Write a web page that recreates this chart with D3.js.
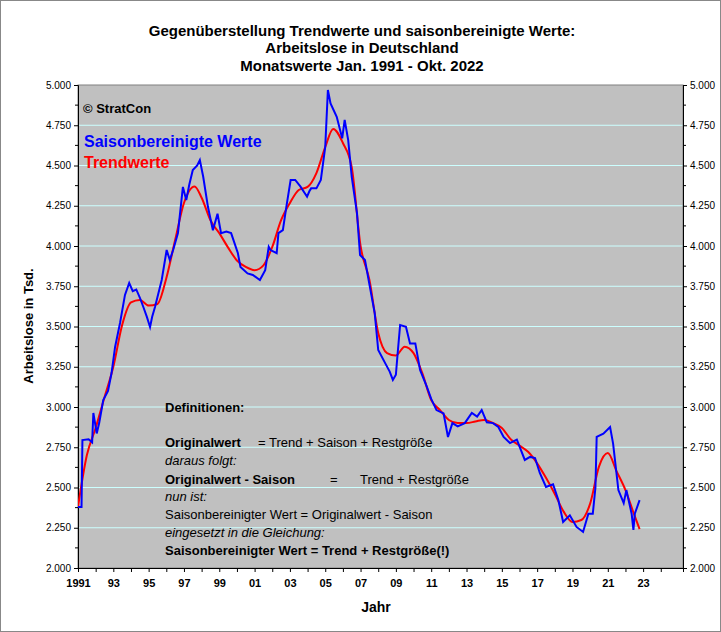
<!DOCTYPE html>
<html><head><meta charset="utf-8">
<script src="https://cdn.jsdelivr.net/npm/d3@7"></script>
<style>body{margin:0;background:#fff}svg{font-family:"Liberation Sans",Arial,sans-serif}</style>
</head><body><svg id="c" width="721" height="632"></svg>
<script>
const blueT=[1991.0,1991.2,1991.25,1991.6,1991.8,1991.87,1992.06,1992.2,1992.43,1992.7,1992.9,1993.1,1993.38,1993.66,1993.9,1994.1,1994.3,1994.5,1994.7,1994.9,1995.08,1995.2,1995.36,1995.74,1996.02,1996.2,1996.4,1996.66,1996.94,1997.13,1997.3,1997.5,1997.75,1997.9,1998.09,1998.36,1998.64,1998.9,1999.1,1999.4,1999.67,2000.05,2000.2,2000.6,2000.9,2001.3,2001.6,2001.8,2001.9,2002.25,2002.35,2002.6,2002.8,2003.04,2003.3,2003.6,2003.97,2004.1,2004.2,2004.5,2004.75,2005.0,2005.15,2005.3,2005.65,2005.96,2006.1,2006.3,2006.5,2006.8,2006.97,2007.25,2007.53,2007.8,2008.0,2008.4,2008.65,2008.83,2009.0,2009.1,2009.24,2009.57,2009.8,2010.1,2010.37,2010.75,2011.0,2011.3,2011.7,2011.95,2012.2,2012.5,2012.9,2013.3,2013.6,2013.86,2014.15,2014.5,2014.8,2015.1,2015.46,2015.85,2016.3,2016.6,2016.88,2017.15,2017.5,2017.9,2018.2,2018.47,2018.85,2019.23,2019.6,2019.9,2020.15,2020.3,2020.37,2020.75,2021.13,2021.3,2021.6,2021.9,2022.05,2022.35,2022.45,2022.53,2022.8];
const blueV=[2379,2379,2795,2800,2780,2963,2836,2900,3043,3100,3211,3373,3522,3696,3770,3720,3730,3680,3621,3560,3497,3560,3621,3789,3975,3913,3980,4081,4367,4285,4380,4472,4500,4534,4430,4242,4098,4200,4080,4090,4080,3957,3870,3830,3820,3789,3850,3995,3975,3955,4080,4099,4244,4410,4410,4369,4306,4340,4358,4358,4410,4615,4969,4886,4803,4669,4783,4658,4430,4203,3944,3913,3745,3584,3354,3271,3220,3168,3200,3333,3509,3498,3395,3395,3230,3126,3050,2981,2960,2814,2900,2880,2900,2963,2940,2981,2905,2900,2876,2814,2776,2797,2671,2690,2683,2590,2503,2520,2422,2286,2327,2255,2224,2337,2337,2500,2814,2834,2876,2773,2484,2403,2484,2337,2236,2337,2422];
const trendT=[1991.0,1991.5,1992.0,1992.5,1993.0,1993.5,1994.0,1994.5,1995.0,1995.5,1996.0,1996.5,1997.0,1997.6,1998.0,1998.5,1999.0,1999.5,2000.0,2000.5,2001.0,2001.5,2002.0,2002.5,2003.0,2003.5,2004.0,2004.5,2005.0,2005.45,2006.0,2006.5,2007.0,2007.5,2008.0,2008.5,2009.0,2009.5,2010.0,2010.5,2011.0,2011.5,2012.0,2012.5,2013.0,2013.5,2014.0,2014.5,2015.0,2015.5,2016.0,2016.5,2017.0,2017.5,2018.0,2018.5,2019.0,2019.5,2020.0,2020.5,2021.0,2021.5,2022.0,2022.5,2022.8];
const trendV=[2380,2700,2870,3060,3250,3510,3650,3665,3630,3640,3800,4037,4267,4370,4300,4160,4080,3990,3910,3870,3850,3880,3994,4160,4267,4348,4367,4453,4615,4727,4640,4490,4000,3790,3460,3335,3320,3375,3335,3209,3043,2981,2919,2900,2900,2910,2920,2900,2870,2800,2760,2720,2650,2560,2460,2350,2286,2298,2400,2630,2714,2600,2484,2330,2242];
const yTicks=d3.range(2000,5001,250);
const xLabelYears=d3.range(1991,2024,2);

const svg=d3.select("#c");
svg.append("rect").attr("x",0.5).attr("y",0.5).attr("width",720).attr("height",631).attr("fill","#fff").attr("stroke","#888");
const L=78,R=683,T=85,B=568;
const x=d3.scaleLinear().domain([1991,1991+(R-L)/17.66]).range([L,R]);
const y=d3.scaleLinear().domain([2000,5000]).range([B,T]);
svg.append("rect").attr("x",L).attr("y",T).attr("width",R-L).attr("height",B-T).attr("fill","#c0c0c0");
svg.append("g").selectAll("line").data(yTicks.slice(1,-1)).join("line")
 .attr("x1",L).attr("x2",R).attr("y1",d=>y(d)).attr("y2",d=>y(d)).attr("stroke","#ccffff").attr("stroke-width",1);
svg.append("rect").attr("x",L).attr("y",T).attr("width",R-L).attr("height",B-T).attr("fill","none").attr("stroke","#808080");
const lab=d=>(d/1000).toFixed(3);
const ya=d3.axisLeft(y).tickValues(yTicks).tickFormat(lab).tickSize(4);
const gl=svg.append("g").attr("transform",`translate(${L},0)`).call(ya);
const gr=svg.append("g").attr("transform",`translate(${R},0)`).call(d3.axisRight(y).tickValues(yTicks).tickFormat(lab).tickSize(4));
const minorY=d3.range(2125,5000,250);
gl.selectAll(".mn").data(minorY).join("line").attr("x1",-3).attr("x2",0).attr("y1",d=>y(d)).attr("y2",d=>y(d)).attr("stroke","#000");
gr.selectAll(".mn").data(minorY).join("line").attr("x1",0).attr("x2",3).attr("y1",d=>y(d)).attr("y2",d=>y(d)).attr("stroke","#000");
[gl,gr].forEach(g=>{g.select(".domain").attr("stroke","#000");g.selectAll("text").attr("font-size",10).attr("fill","#000").attr("font-family","Liberation Sans,Arial")});
const xa=d3.axisBottom(x).tickValues(d3.range(1991,2025)).tickSize(4).tickFormat(d=>xLabelYears.includes(d)?(d===1991?"1991":String(d%100).padStart(2,"0")):"");
const gx=svg.append("g").attr("transform",`translate(0,${B})`).call(xa);
gx.select(".domain").attr("stroke","#000");
gx.selectAll("text").attr("font-size",11).attr("font-weight","bold").attr("dy","1.1em").attr("fill","#000").attr("font-family","Liberation Sans,Arial");

const clip=svg.append("clipPath").attr("id","cp").append("rect").attr("x",L).attr("y",T).attr("width",R-L).attr("height",B-T);
svg.append("path").datum(trendT.map((t,i)=>[t,trendV[i]])).attr("d",d3.line().x(d=>x(d[0])).y(d=>y(d[1])).curve(d3.curveMonotoneX)).attr("fill","none").attr("stroke","#ff0000").attr("stroke-width",2).attr("clip-path","url(#cp)");
svg.append("path").datum(blueT.map((t,i)=>[t,blueV[i]])).attr("d",d3.line().x(d=>x(d[0])).y(d=>y(d[1]))).attr("fill","none").attr("stroke","#0000ff").attr("stroke-width",2).attr("clip-path","url(#cp)");

const tx=(xx,yy,s,o={})=>svg.append("text").attr("x",xx).attr("y",yy).text(s).attr("font-size",o.fs||13).attr("font-weight",o.b?"bold":"normal").attr("font-style",o.i?"italic":"normal").attr("fill",o.c||"#000").attr("text-anchor",o.a||"start");
tx(362,36,"Gegenüberstellung Trendwerte und saisonbereinigte Werte:",{b:1,a:"middle",fs:15});
tx(362,53,"Arbeitslose in Deutschland",{b:1,a:"middle",fs:15});
tx(362,71,"Monatswerte Jan. 1991 - Okt. 2022",{b:1,a:"middle",fs:15});
tx(376,612,"Jahr",{b:1,a:"middle",fs:14});
svg.append("text").attr("transform","translate(33,326) rotate(-90)").attr("text-anchor","middle").attr("font-size",13).attr("font-weight","bold").text("Arbeitslose in Tsd.");
tx(83,113,"© StratCon",{b:1});
tx(84,147,"Saisonbereinigte Werte",{b:1,c:"#0000ff",fs:16});
tx(84,168,"Trendwerte",{b:1,c:"#ff0000",fs:16});
tx(165,412,"Definitionen:",{b:1});
tx(165,447,"Originalwert",{b:1}); tx(258,447,"= Trend + Saison + Restgröße");
tx(165,465,"daraus folgt:",{i:1});
tx(165,484,"Originalwert - Saison",{b:1}); tx(330,484,"="); tx(360,484,"Trend + Restgröße");
tx(165,501,"nun ist:",{i:1});
tx(165,519,"Saisonbereinigter Wert =  Originalwert - Saison");
tx(165,537,"eingesetzt in die Gleichung:",{i:1});
tx(165,555,"Saisonbereinigter Wert = Trend + Restgröße(!)",{b:1});
</script></body></html>
